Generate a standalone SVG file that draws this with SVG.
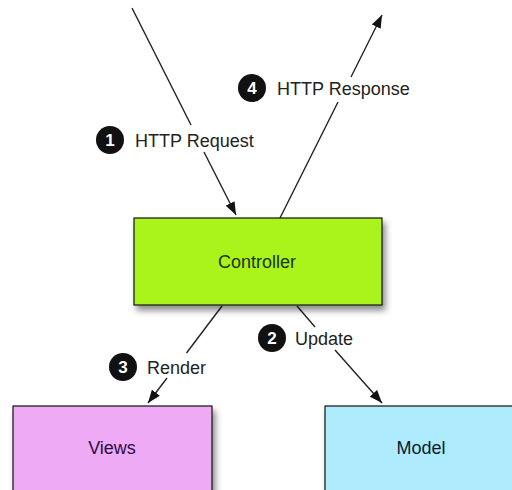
<svg xmlns="http://www.w3.org/2000/svg" width="512" height="490" viewBox="0 0 512 490">
  <style>
    .box { stroke: #111; stroke-width: 1.2; }
    .lbl { font-family: "Liberation Sans", Arial, sans-serif; font-size: 18px; fill: #222; }
    .name { font-family: "Liberation Sans", Arial, sans-serif; font-size: 18px; text-anchor: middle; }
    .num { font-family: "Liberation Sans", Arial, sans-serif; font-size: 17px; font-weight: bold; fill: #fff; text-anchor: middle; }
    .edge { stroke: #222; stroke-width: 1.4; fill: none; }
    .badge { fill: #111; }
  </style>
  <defs>
    <marker id="arrow" markerUnits="userSpaceOnUse" markerWidth="14" markerHeight="10" refX="13" refY="5" orient="auto">
      <path d="M0,0 L13,5 L0,10 z" fill="#111"/>
    </marker>
    <filter id="shadow" x="-10%" y="-10%" width="130%" height="140%">
      <feDropShadow dx="3" dy="5" stdDeviation="3" flood-color="#000" flood-opacity="0.45"/>
    </filter>
  </defs>
  <rect width="512" height="490" fill="#fff"/>

  <!-- connectors, each split where its label sits -->
  <g id="connectors">
    <line class="edge" x1="132" y1="8" x2="191" y2="125"/>
    <line class="edge" x1="204" y1="152" x2="236" y2="215" marker-end="url(#arrow)"/>
    <line class="edge" x1="280" y1="218" x2="338" y2="102"/>
    <line class="edge" x1="351" y1="77" x2="382" y2="15" marker-end="url(#arrow)"/>
    <line class="edge" x1="222" y1="306" x2="186.5" y2="353"/>
    <line class="edge" x1="167" y1="378" x2="148" y2="403" marker-end="url(#arrow)"/>
    <line class="edge" x1="297" y1="306" x2="315" y2="327"/>
    <line class="edge" x1="335" y1="350" x2="382" y2="403" marker-end="url(#arrow)"/>
  </g>

  <g id="label-request">
    <circle class="badge" cx="110" cy="140" r="14"/>
    <text class="num" x="110" y="146">1</text>
    <text class="lbl" x="135" y="147">HTTP Request</text>
  </g>
  <g id="label-response">
    <circle class="badge" cx="252" cy="88" r="14"/>
    <text class="num" x="252" y="94">4</text>
    <text class="lbl" x="277" y="95">HTTP Response</text>
  </g>
  <g id="label-render">
    <circle class="badge" cx="123" cy="367" r="14"/>
    <text class="num" x="123" y="373">3</text>
    <text class="lbl" x="147" y="374">Render</text>
  </g>
  <g id="label-update">
    <circle class="badge" cx="272" cy="338" r="14"/>
    <text class="num" x="272" y="344">2</text>
    <text class="lbl" x="295" y="345">Update</text>
  </g>

  <g id="controller">
    <rect class="box" x="134" y="218" width="248" height="87" fill="#aaf41c" filter="url(#shadow)"/>
    <text class="name" x="257" y="268" fill="#1c3300">Controller</text>
  </g>
  <g id="views">
    <rect class="box" x="13" y="406" width="199" height="95" fill="#eeaaf4" filter="url(#shadow)"/>
    <text class="name" x="112" y="454" fill="#2a0c44">Views</text>
  </g>
  <g id="model">
    <rect class="box" x="325" y="406" width="200" height="95" fill="#aeecfd" filter="url(#shadow)"/>
    <text class="name" x="421" y="454" fill="#0c1a30">Model</text>
  </g>
</svg>
